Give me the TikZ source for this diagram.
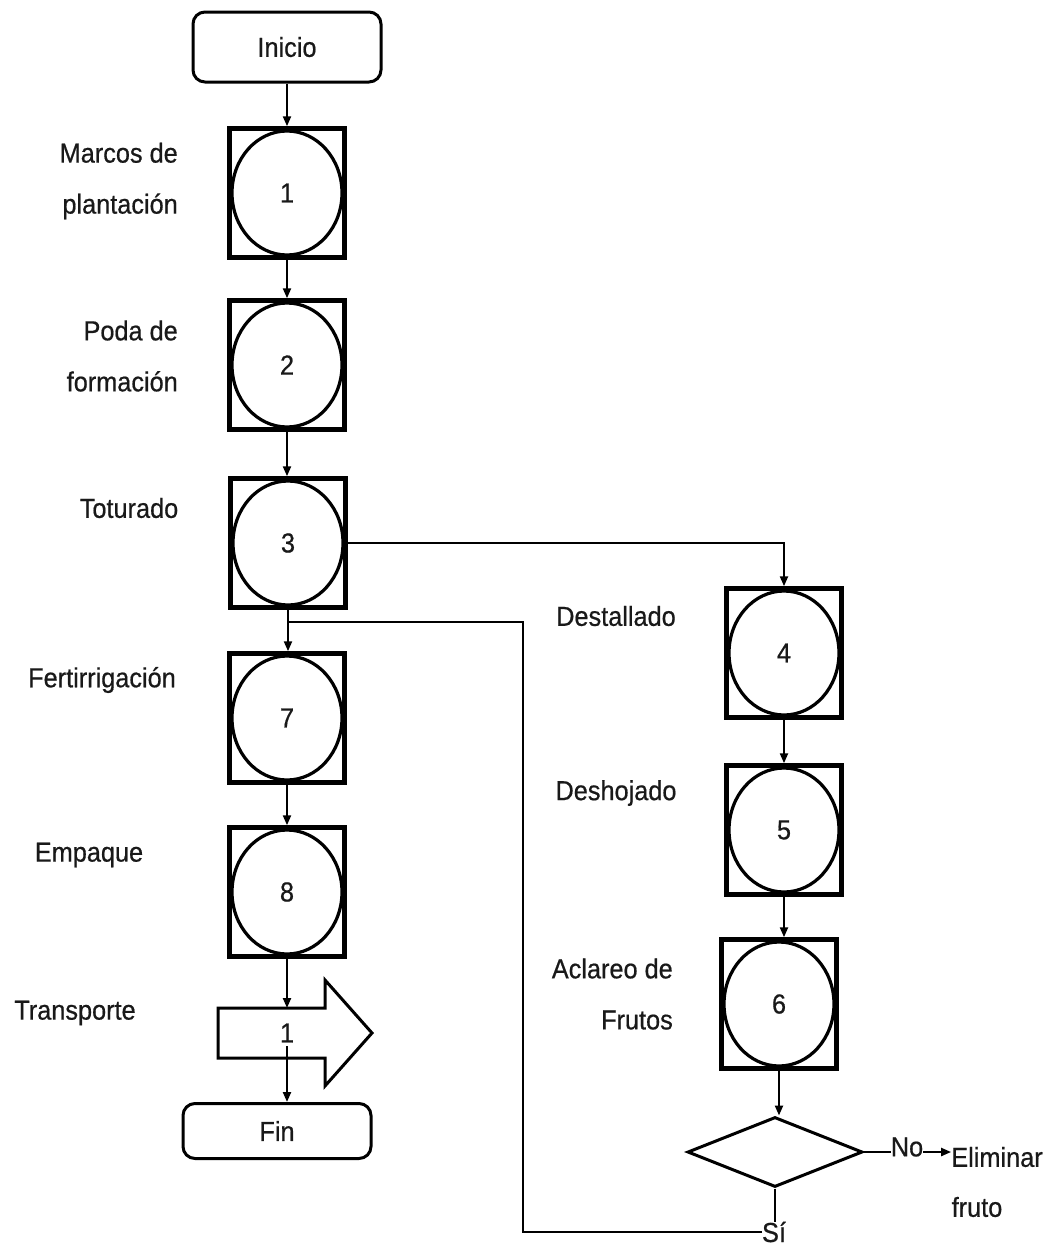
\documentclass[tikz,border=0pt]{standalone}
\usepackage{fontspec}
\setmainfont{Liberation Sans}[FakeStretch=0.92,FakeBold=0.6]
\usetikzlibrary{shapes.geometric,arrows.meta,calc}
\begin{document}
\begin{tikzpicture}[x=1pt,y=-1pt,
 every node/.style={font=\fontsize{27.5}{51}\selectfont, text=black!90},
 proc/.style={draw, line width=4.5pt, minimum width=115pt, minimum height=129pt, inner sep=0pt,
   path picture={\draw[line width=3.2pt] (path picture bounding box.center) ellipse [x radius=55pt, y radius=62pt];}},
 term/.style={draw, line width=3pt, rounded corners=12pt, minimum width=188pt, inner sep=0pt},
 lbl/.style={align=right, inner sep=0pt},
 conn/.style={line width=2.2pt},
 arr/.style={conn, -{Triangle[length=10pt,width=8pt]}}]
\useasboundingbox (0,0) rectangle (1051,1248);

% terminals
\node[term, minimum height=70pt] (ini) at (287,47) {Inicio};
\node[term, minimum height=55pt] (fin) at (277,1131) {Fin};

% process boxes
\node[proc] (b1) at (287,193) {1};
\node[proc] (b2) at (287,365) {2};
\node[proc] (b3) at (288,543) {3};
\node[proc] (b7) at (287,718) {7};
\node[proc] (b8) at (287,892) {8};
\node[proc] (b4) at (784,653) {4};
\node[proc] (b5) at (784,830) {5};
\node[proc] (b6) at (779,1004) {6};

% transport arrow
\draw[line width=3pt, line join=miter] (218,1008) -- (325,1008) -- (325,980) -- (372,1033) -- (325,1086) -- (325,1058) -- (218,1058) -- cycle;
\node (tr) at (287,1033) {1};
\coordinate (trtop) at (287,1008);

% decision
\node[draw, diamond, line width=3pt, minimum width=175pt, minimum height=70pt, inner sep=0pt, aspect=2.5] (d) at (775,1152) {};

% labels
\node[lbl, anchor=east] at (178,181) {Marcos de\\plantación};
\node[lbl, anchor=east] at (178,356) {Poda de\\formación};
\node[lbl] at (129,508) {Toturado};
\node[lbl] at (102,680) {Fertirrigación};
\node[lbl] at (89,855) {Empaque};
\node[lbl] at (75,1013) {Transporte};
\node[lbl] at (616,616) {Destallado};
\node[lbl] at (616,793) {Deshojado};
\node[lbl, anchor=east] at (673,994) {Aclareo de\\Frutos};
\node[lbl] (no) at (907,1147) {No};
\node[lbl] (elim) at (997,1157) {Eliminar};
\node[lbl] (fruto) at (977,1207) {fruto};
\node[lbl] (si) at (774,1232) {Sí};

% connectors
\draw[arr] (ini.south) -- (b1.north);
\draw[arr] (b1.south) -- (b2.north);
\draw[arr] (b2.south) -- (b2.south |- b3.north);
\draw[arr] (b3.south) -- (b3.south |- b7.north);
\draw[arr] (b7.south) -- (b8.north);
\draw[arr] (b8.south) -- (trtop);
\draw[arr] (tr.south) -- (tr.south |- fin.north);
\draw[arr] (b3.east) -| (b4.north);
\draw[arr] (b4.south) -- (b5.north);
\draw[arr] (b5.south) -- (b5.south |- b6.north);
\draw[arr] (b6.south) -- (b6.south |- d.north);
\draw[conn] (d.south) -- (d.south |- si.north);
\coordinate (j) at (288,622);
\coordinate (lx) at (523,622);
\draw[conn] (si.west) -| (lx) -- (j);
\draw[conn] (d.east) -- (d.east -| no.west);
\draw[arr] (no.east |- d.east) -- (elim.west |- d.east);
\end{tikzpicture}
\end{document}
